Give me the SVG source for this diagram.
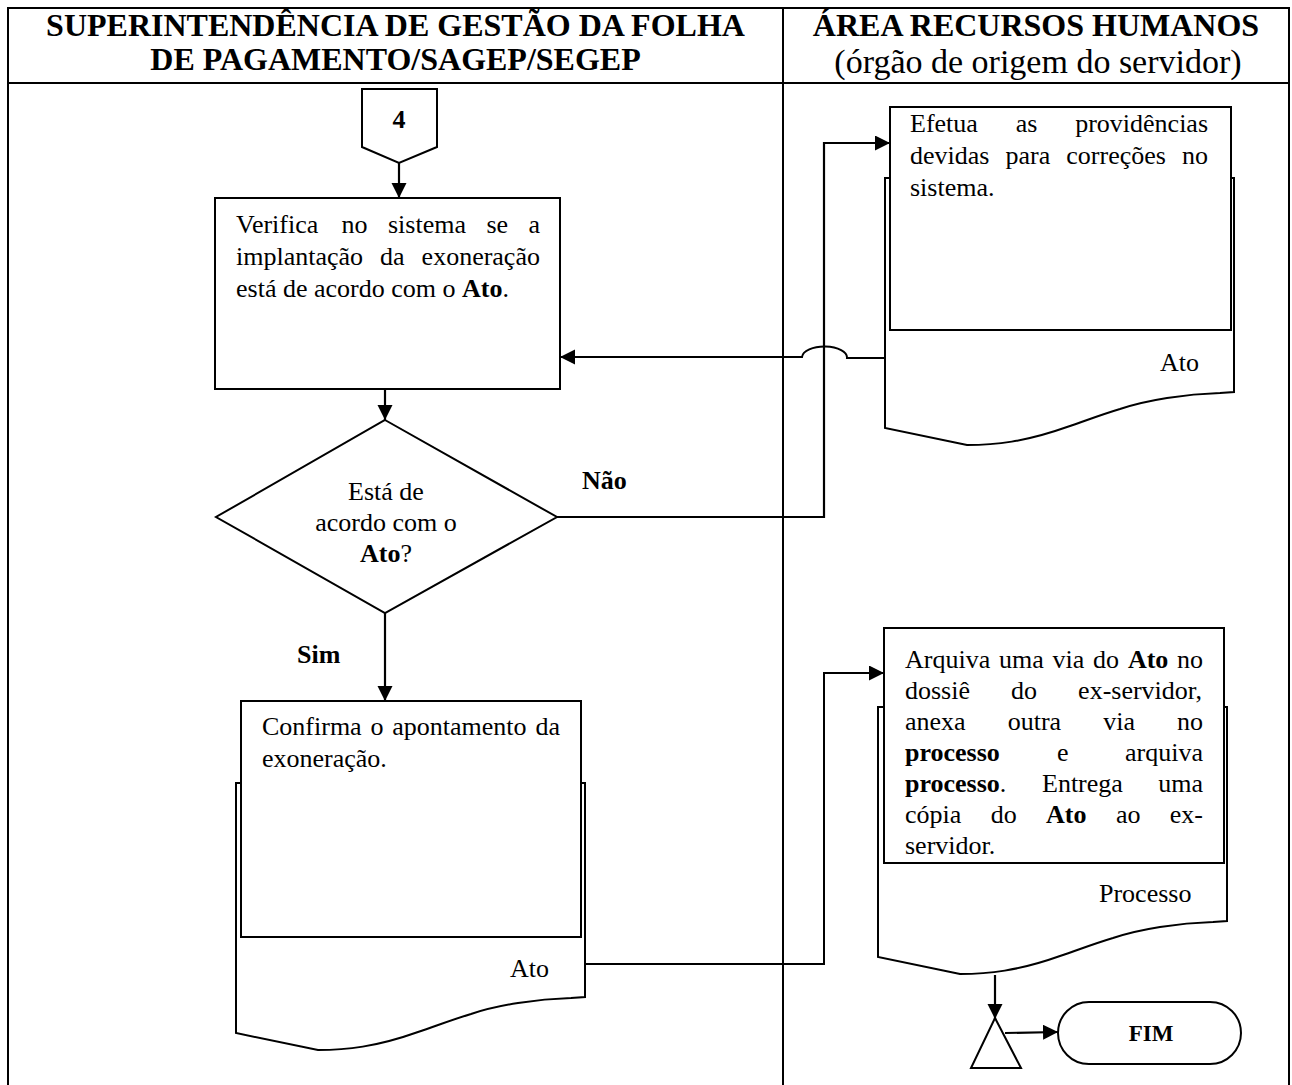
<svg xmlns="http://www.w3.org/2000/svg" width="1292" height="1085" viewBox="0 0 1292 1085">
<style>
.t{font-family:"Liberation Serif","Times New Roman",serif;font-size:26px;fill:#000}
.b{font-weight:bold}
.hd{font-size:32px}
.hs{font-size:34px}
.ln{fill:none;stroke:#000;stroke-width:2}
.cn{fill:none;stroke:#000;stroke-width:2.2}
.sh{fill:#fff;stroke:#000;stroke-width:2}
</style>
<defs>
<marker id="ah" markerUnits="userSpaceOnUse" markerWidth="16" markerHeight="16" refX="15" refY="7.5" orient="auto">
<path d="M0,0 L15,7.5 L0,15 Z" fill="#000"/>
</marker>
<!-- document symbol outline: straight sides, wavy bottom -->
<path id="docOutline" d="M0,0 H349 V214 L335,215 C300,216 262,222 235,231 C215,237 200,243 182,249 C140,264 110,267 82,267 L0,250 Z"/>
</defs>
<rect x="0" y="0" width="1292" height="1085" fill="#fff"/>

<!-- swimlane table -->
<g id="lanes">
<path class="ln" d="M8,1085 V8 H1289 V1085 M8,83 H1289 M783,8 V1085"/>
<text class="t b hd" x="395.5" y="36" text-anchor="middle">SUPERINTENDÊNCIA DE GESTÃO DA FOLHA</text>
<text class="t b hd" x="395.5" y="70" text-anchor="middle">DE PAGAMENTO/SAGEP/SEGEP</text>
<text class="t b hd" x="1036" y="36" text-anchor="middle">ÁREA RECURSOS HUMANOS</text>
<text class="t hs" x="1038" y="73" text-anchor="middle">(órgão de origem do servidor)</text>
</g>

<!-- connectors -->
<g id="connectors">
<path class="cn" d="M399,163 V198" marker-end="url(#ah)"/>
<path class="cn" d="M385,389 V420" marker-end="url(#ah)"/>
<path class="cn" d="M557,517 H824 V143 H890" marker-end="url(#ah)"/>
<path class="ln" d="M885,358 H847 A22.5,11 0 0 0 802,357 H560" marker-end="url(#ah)"/>
<path class="cn" d="M385,613 V701" marker-end="url(#ah)"/>
<path class="ln" d="M585,964 H824 V673 H884" marker-end="url(#ah)"/>
<path class="cn" d="M995,975 V1019" marker-end="url(#ah)"/>
<path class="cn" d="M1005,1033 L1058,1032" marker-end="url(#ah)"/>
<text class="t b" x="582" y="489">Não</text>
<text class="t b" x="297" y="663">Sim</text>
</g>

<!-- off-page connector 4 -->
<g id="n-ref4">
<path class="sh" d="M362,89 H437 V147 L399,163 L362,147 Z"/>
<text class="t b" x="399" y="128" text-anchor="middle">4</text>
</g>

<!-- process: verify implementation -->
<g id="n-verifica">
<rect class="sh" x="215" y="198" width="345" height="191"/>
<text class="t" y="233"><tspan x="236">Verifica</tspan><tspan x="341.6">no</tspan><tspan x="388">sistema</tspan><tspan x="486.4">se</tspan><tspan x="528.5">a</tspan></text>
<text class="t" y="265"><tspan x="236">implantação</tspan><tspan x="380.1">da</tspan><tspan x="421.6">exoneração</tspan></text>
<text class="t" x="236" y="297">está de acordo com o <tspan class="b">Ato</tspan>.</text>
</g>

<!-- decision -->
<g id="n-decisao">
<path class="sh" d="M385,420 L557,517 L385,613 L216,517 Z"/>
<text class="t" x="386" y="500" text-anchor="middle">Está de</text>
<text class="t" x="386" y="531" text-anchor="middle">acordo com o</text>
<text class="t" x="386" y="562" text-anchor="middle"><tspan class="b">Ato</tspan>?</text>
</g>

<!-- document: corrections in the system -->
<g id="n-efetua">
<use href="#docOutline" x="885" y="178" fill="#fff" stroke="#000" stroke-width="2"/>
<rect class="sh" x="890" y="107" width="341" height="223"/>
<text class="t" y="132"><tspan x="910">Efetua</tspan><tspan x="1015.7">as</tspan><tspan x="1075.2">providências</tspan></text>
<text class="t" y="164"><tspan x="910">devidas</tspan><tspan x="1005.5">para</tspan><tspan x="1066.3">correções</tspan><tspan x="1182">no</tspan></text>
<text class="t" x="910" y="196">sistema.</text>
<text class="t" x="1160" y="371">Ato</text>
</g>

<!-- document: confirm exoneration -->
<g id="n-confirma">
<use href="#docOutline" x="236" y="783" fill="#fff" stroke="#000" stroke-width="2"/>
<rect class="sh" x="241" y="701" width="340" height="236"/>
<text class="t" y="735"><tspan x="262">Confirma</tspan><tspan x="370.5">o</tspan><tspan x="392.3">apontamento</tspan><tspan x="535.4">da</tspan></text>
<text class="t" x="262" y="767">exoneração.</text>
<text class="t" x="510" y="977">Ato</text>
</g>

<!-- document: file the act -->
<g id="n-arquiva">
<use href="#docOutline" x="878" y="707" fill="#fff" stroke="#000" stroke-width="2"/>
<rect class="sh" x="884" y="628" width="340" height="235"/>
<text class="t" y="668"><tspan x="905">Arquiva</tspan><tspan x="999">uma</tspan><tspan x="1052.5">via</tspan><tspan x="1093.1">do</tspan><tspan x="1127.9" class="b">Ato</tspan><tspan x="1177">no</tspan></text>
<text class="t" y="699"><tspan x="905">dossiê</tspan><tspan x="1011">do</tspan><tspan x="1078.1">ex-servidor,</tspan></text>
<text class="t" y="730"><tspan x="905">anexa</tspan><tspan x="1007.7">outra</tspan><tspan x="1103.2">via</tspan><tspan x="1177">no</tspan></text>
<text class="t" y="761"><tspan x="905" class="b">processo</tspan><tspan x="1056.9">e</tspan><tspan x="1125">arquiva</tspan></text>
<text class="t" y="792"><tspan x="905" class="b">processo</tspan><tspan>.</tspan><tspan x="1042">Entrega</tspan><tspan x="1158.2">uma</tspan></text>
<text class="t" y="823"><tspan x="905">cópia</tspan><tspan x="990.7">do</tspan><tspan x="1046.1" class="b">Ato</tspan><tspan x="1115.9">ao</tspan><tspan x="1169.8">ex-</tspan></text>
<text class="t" x="905" y="854">servidor.</text>
<text class="t" x="1099" y="902">Processo</text>
</g>

<!-- merge / archive symbol -->
<g id="n-merge">
<path class="sh" d="M995,1018 L1021,1068 L971,1068 Z"/>
</g>

<!-- terminator -->
<g id="n-fim">
<rect class="sh" x="1058" y="1002" width="183" height="62" rx="31" ry="31"/>
<text class="t b" x="1151" y="1041" text-anchor="middle" style="font-size:23px">FIM</text>
</g>
</svg>
